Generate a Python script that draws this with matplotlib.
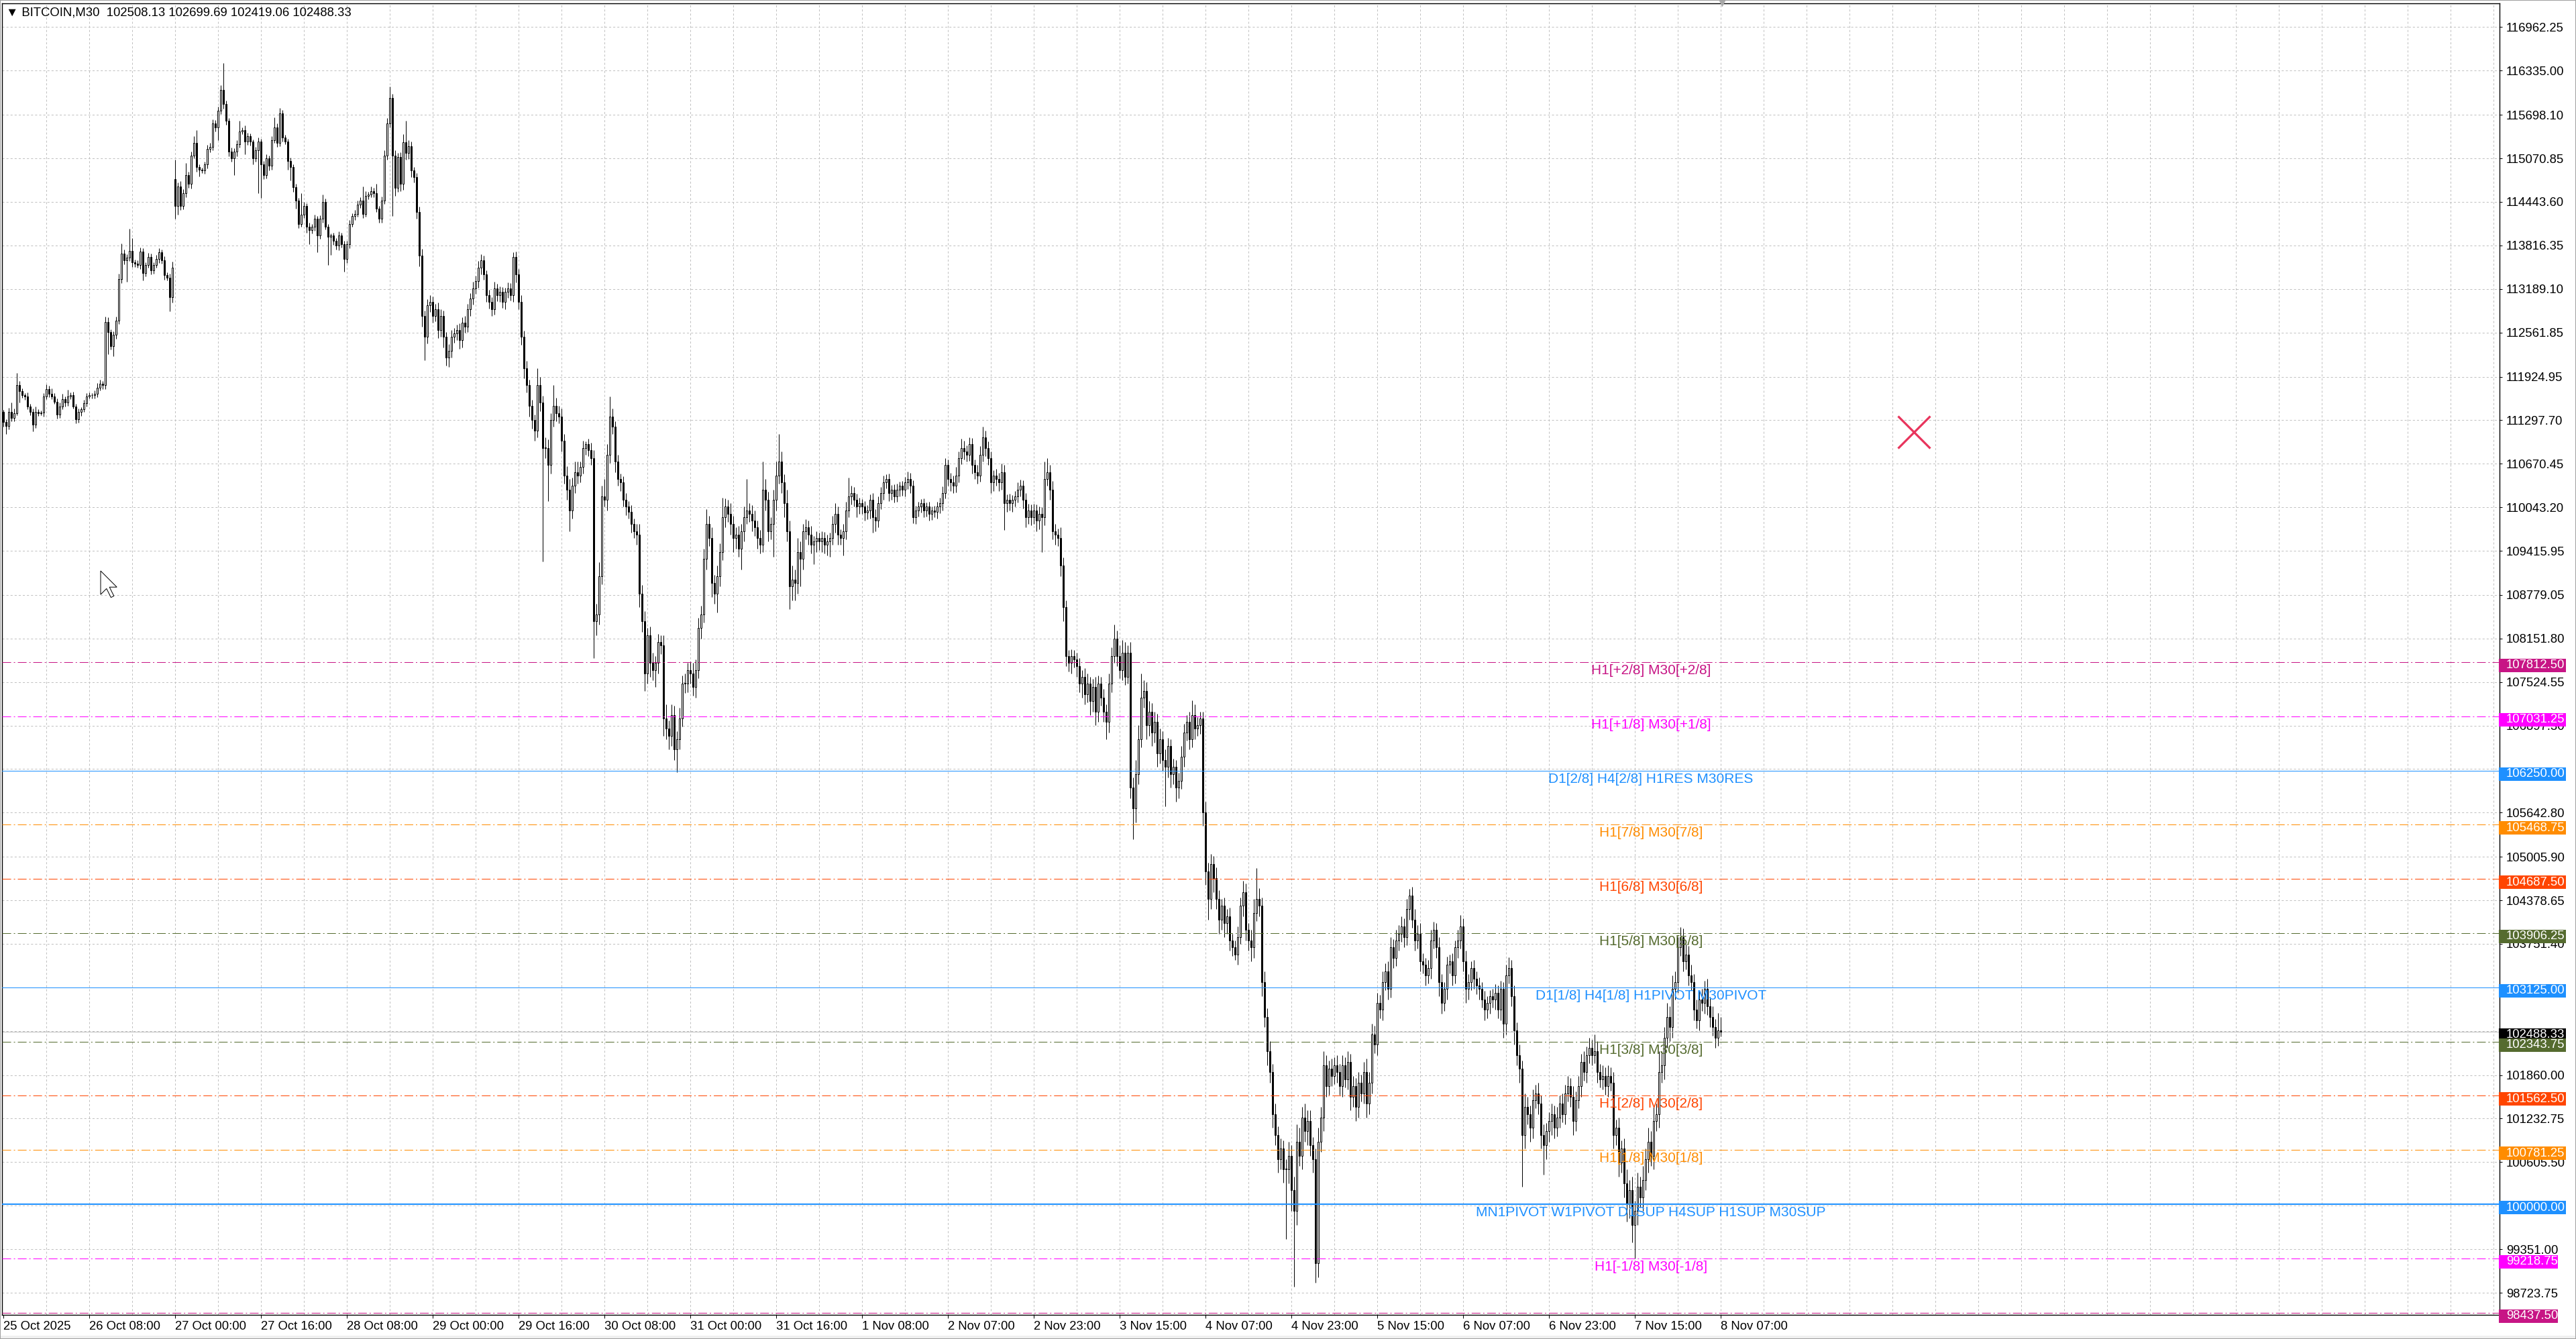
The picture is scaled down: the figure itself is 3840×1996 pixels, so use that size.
import matplotlib
matplotlib.use("Agg")
import matplotlib.pyplot as plt
import matplotlib.transforms as mtransforms
from matplotlib.patches import Rectangle, Polygon
import numpy as np

plt.rcParams['font.family'] = ['Liberation Sans', 'DejaVu Sans']
plt.rcParams['lines.scale_dashes'] = False

symbol = "BITCOIN,M30"

# M30 closes, one row = 16 bars (one grid cell)
closes = [
    111270, 111215, 111420, 111326, 111400, 111808, 111715, 111660, 111640, 111493, 111418, 111233, 111420, 111400, 111410, 111640,
    111750, 111680, 111640, 111567, 111381, 111493, 111604, 111550, 111641, 111660, 111493, 111307, 111419, 111456, 111547, 111640,
    111660, 111655, 111680, 111770, 111827, 111808, 112717, 112568, 112364, 112531, 112735, 113329, 113700, 113607, 113644, 113737,
    113570, 113552, 113533, 113726, 113421, 113533, 113652, 113459, 113533, 113626, 113718, 113607, 113385, 113348, 113069, 113500,
    114386, 114664, 114386, 114571, 114831, 114701, 115110, 115295, 114943, 114906, 114900, 114987, 115203, 115240, 115574, 115518,
    115758, 116056, 115852, 115610, 115165, 115073, 115165, 115277, 115462, 115481, 115314, 115388, 115314, 115073, 115184, 115314,
    114980, 114831, 115073, 114961, 115332, 115518, 115295, 115722, 115370, 115314, 115036, 114943, 114653, 114460, 114126, 114256,
    114385, 114089, 114033, 114089, 114200, 113960, 114200, 114442, 114089, 113941, 113960, 113885, 113811, 113960, 113830, 113626,
    113830, 114126, 114237, 114274, 114404, 114460, 114274, 114534, 114553, 114600, 114571, 114349, 114200, 114460, 115110, 115574,
    115944, 115110, 114646, 115091, 114700, 115300, 115150, 115250, 114900, 114800, 114300, 113666, 112800, 112500, 112950, 113000,
    112800, 112900, 112600, 112800, 112500, 112200, 112300, 112500, 112550, 112600, 112450, 112700, 112650, 112900, 113050, 113200,
    113300, 113500, 113600, 113400, 113100, 113000, 112900, 113200, 113100, 113150, 113000, 113150, 113200, 113100, 113650, 113400,
    113000, 112500, 112050, 111800, 111500, 111300, 111150, 111800, 111550, 110900, 110900, 110650, 111300, 111500, 111400, 111350,
    111000, 110500, 110300, 110000, 110350, 110550, 110500, 110620, 110900, 110950, 110870, 110750, 108400, 108500, 109050, 110200,
    110150, 110800, 111350, 111200, 110700, 110450, 110400, 110150, 110050, 109980, 109800, 109700, 109650, 108800, 108400, 107650,
    108200, 107800, 107700, 107800, 108100, 108050, 107000, 106850, 106750, 107050, 106550, 106700, 107000, 107500, 107500, 107700,
    107650, 107450, 107700, 108300, 108500, 109300, 109800, 109600, 108950, 108800, 109050, 109400, 109900, 110050, 109950, 109800,
    109600, 109650, 109450, 109700, 109900, 110000, 109950, 109850, 109750, 109600, 109500, 110300, 110150, 109700, 109800, 110150,
    110500, 110700, 110400, 110100, 109700, 108900, 109000, 108950, 109400, 109300, 109700, 109750, 109650, 109500, 109550, 109600,
    109550, 109600, 109500, 109550, 109600, 109800, 109950, 109650, 109600, 109700, 110000, 110200, 110250, 110150, 110050, 110100,
    110050, 109970, 110000, 110150, 109900, 109850, 110100, 110250, 110400, 110450, 110250, 110300, 110200, 110300, 110350, 110300,
    110400, 110450, 110350, 109900, 110000, 110050, 110100, 110000, 110050, 109950, 110000, 109980, 110050, 110100, 110250, 110650,
    110450, 110400, 110350, 110500, 110750, 110900, 110850, 110800, 110950, 110650, 110550, 110500, 110800, 111050, 110900, 110750,
    110400, 110500, 110450, 110400, 110550, 110100, 110150, 110100, 110150, 110200, 110300, 110350, 110150, 109900, 110000, 109900,
    110000, 109850, 109950, 109900, 110450, 110550, 110300, 109700, 109650, 109600, 109200, 108600, 107900, 107800, 107900, 107850,
    107750, 107500, 107600, 107350, 107500, 107250, 107450, 107100, 107500, 107300, 107100, 106950, 107500, 107900, 108150, 107900,
    107700, 107950, 107600, 107950, 106000, 105700, 106200, 106700, 107300, 107400, 106900, 107100, 106800, 106950, 106500, 106700,
    106400, 106300, 106600, 106200, 106300, 106000, 106100, 106450, 106800, 106950, 106700, 107050, 106850, 106900, 107000, 105650,
    104800, 104400, 104900, 104700, 104400, 104100, 104300, 104050, 104150, 103800, 103700, 103600, 103850, 104300, 104500, 103950,
    103800, 103700, 104200, 104400, 104300, 103200, 102700, 102200, 101900, 101300, 101000, 100650, 100800, 100500, 100500, 100700,
    100200, 99900, 100900, 100700, 101250, 101050, 101200, 100850, 100650, 99150, 100900, 101250, 102000, 101700, 101950, 101850,
    102000, 101900, 101700, 102000, 101800, 102050, 101550, 101700, 101400, 101750, 101600, 101900, 101450, 101750, 102450, 102300,
    102900, 102800, 103200, 103350, 103100, 103700, 103550, 103800, 103900, 104000, 103850, 104250, 104450, 104100, 103800, 103900,
    103500, 103450, 103300, 103400, 103800, 103950, 103700, 103200, 102900, 103100, 103450, 103500, 103300, 103700, 103800, 104000,
    103500, 103100, 103200, 103400, 103250, 103150, 103100, 102950, 102800, 102900, 103000, 102950, 103050, 102800, 103100, 102600,
    103300, 103400, 103000, 102500, 102150, 101950, 101000, 101400, 101300, 101100, 101500, 101600, 101450, 101000, 100850, 101050,
    101200, 101300, 101100, 101250, 101450, 101300, 101600, 101700, 101550, 101200, 101500, 101700, 102050, 101900, 102150, 102250,
    102150, 102200, 101900, 101800, 101850, 101700, 101850, 101750, 101000, 101100, 100600, 100800, 100300, 100000, 100200, 99700,
    99900, 100250, 100100, 100350, 100650, 100900, 100700, 101200, 101300, 101900, 102000, 102400, 102700, 102550, 103100, 103200,
    103700, 103850, 103500, 103600, 103300, 103200, 102800, 102650, 102950, 102900, 103100, 102850, 102700, 102550, 102400, 102508.13,
    102488.33,
]

first_open = 111420
gap_opens = {64: 114776}

# upper / lower shadow length above / below the body
wick_up = [
    30, 40, 60, 128, 70, 167, 50, 40, 30, 60, 40, 50, 70, 40, 30, 50,
    60, 40, 72, 50, 40, 60, 70, 40, 93, 40, 50, 40, 50, 30, 40, 50,
    40, 30, 50, 60, 50, 40, 74, 60, 40, 50, 60, 80, 148, 60, 50, 315,
    186, 40, 50, 60, 50, 40, 60, 50, 40, 50, 60, 40, 50, 40, 60, 80,
    278, 60, 80, 60, 169, 50, 60, 93, 185, 40, 30, 40, 60, 55, 60, 50,
    60, 74, 389, 50, 40, 60, 50, 60, 148, 40, 60, 50, 40, 30, 50, 60,
    40, 50, 60, 40, 60, 148, 60, 74, 50, 40, 40, 50, 40, 50, 40, 315,
    60, 40, 50, 40, 60, 40, 50, 111, 50, 40, 30, 40, 40, 60, 40, 50,
    50, 60, 40, 50, 60, 50, 204, 60, 40, 64, 50, 130, 40, 60, 74, 80,
    167, 60, 80, 60, 70, 120, 315, 80, 60, 50, 60, 80, 100, 80, 90, 100,
    80, 70, 90, 100, 80, 70, 90, 100, 80, 70, 90, 80, 100, 70, 80, 90,
    80, 90, 90, 70, 60, 80, 70, 90, 60, 80, 70, 60, 80, 70, 70, 80,
    80, 100, 90, 100, 80, 90, 80, 250, 120, 100, 150, 120, 100, 300, 120, 100,
    120, 100, 130, 150, 120, 150, 150, 80, 100, 40, 80, 100, 120, 150, 200, 150,
    250, 150, 293, 120, 80, 100, 80, 90, 100, 80, 90, 80, 100, 150, 120, 150,
    100, 120, 150, 100, 120, 100, 150, 200, 120, 150, 130, 120, 150, 120, 150, 100,
    120, 150, 150, 150, 120, 150, 220, 120, 150, 120, 150, 120, 280, 120, 100, 150,
    120, 100, 120, 100, 150, 450, 100, 120, 150, 100, 120, 400, 150, 120, 100, 150,
    200, 400, 150, 120, 200, 150, 200, 150, 200, 150, 100, 120, 100, 120, 80, 100,
    80, 100, 90, 100, 80, 120, 150, 100, 80, 100, 120, 270, 100, 80, 90, 80,
    60, 80, 70, 80, 100, 120, 100, 80, 100, 70, 80, 60, 70, 80, 60, 70,
    80, 110, 90, 80, 60, 70, 60, 70, 60, 70, 50, 60, 70, 80, 90, 100,
    80, 90, 100, 120, 100, 130, 100, 80, 100, 90, 80, 100, 120, 150, 100, 90,
    100, 80, 100, 90, 120, 100, 80, 90, 70, 80, 100, 90, 80, 100, 90, 80,
    90, 80, 100, 90, 250, 200, 100, 120, 100, 90, 150, 120, 100, 90, 100, 90,
    100, 120, 100, 120, 150, 100, 120, 150, 120, 100, 120, 100, 150, 120, 200, 120,
    150, 180, 150, 100, 150, 150, 200, 200, 350, 150, 120, 150, 120, 150, 120, 150,
    120, 150, 120, 100, 120, 100, 120, 150, 120, 100, 150, 210, 150, 120, 100, 100,
    150, 120, 150, 120, 150, 120, 100, 120, 100, 120, 100, 100, 150, 120, 160, 120,
    100, 150, 200, 440, 150, 120, 150, 120, 150, 120, 150, 120, 150, 120, 150, 200,
    150, 200, 250, 200, 150, 200, 150, 150, 120, 150, 200, 150, 200, 150, 120, 150,
    120, 150, 120, 150, 120, 150, 120, 150, 120, 150, 120, 150, 200, 150, 150, 120,
    150, 120, 150, 120, 150, 150, 120, 150, 120, 150, 120, 150, 90, 120, 150, 120,
    150, 120, 100, 120, 150, 120, 100, 150, 120, 100, 120, 100, 120, 100, 150, 170,
    120, 150, 120, 100, 120, 100, 120, 100, 120, 100, 80, 100, 120, 100, 120, 100,
    150, 160, 120, 150, 120, 150, 120, 200, 150, 120, 150, 120, 150, 120, 150, 120,
    120, 150, 120, 150, 120, 150, 120, 150, 120, 150, 120, 150, 120, 150, 120, 150,
    120, 250, 150, 120, 150, 120, 150, 120, 150, 120, 150, 120, 150, 200, 150, 200,
    150, 200, 150, 200, 150, 200, 150, 200, 150, 300, 200, 150, 200, 150, 200, 150,
    150, 140, 120, 150, 120, 150, 120, 150, 120, 150, 120, 150, 120, 150, 120, 250,
    191.56,
]
wick_dn = [
    70, 112, 50, 40, 40, 30, 167, 40, 50, 40, 50, 93, 50, 40, 30, 60,
    40, 50, 40, 30, 60, 50, 40, 60, 50, 40, 30, 50, 40, 60, 40, 50,
    30, 40, 40, 50, 40, 60, 60, 315, 50, 148, 60, 50, 60, 60, 315, 50,
    60, 50, 40, 60, 111, 50, 40, 60, 50, 40, 60, 50, 60, 40, 203, 80,
    186, 130, 60, 50, 60, 50, 60, 40, 60, 93, 40, 50, 60, 40, 50, 60,
    186, 50, 60, 50, 60, 50, 242, 60, 50, 40, 186, 50, 60, 93, 50, 613,
    483, 60, 50, 60, 50, 40, 60, 50, 60, 40, 131, 186, 60, 111, 60, 37,
    40, 89, 203, 40, 60, 242, 50, 60, 40, 408, 260, 60, 50, 60, 40, 186,
    60, 50, 40, 50, 40, 50, 60, 40, 50, 40, 60, 50, 55, 60, 50, 60,
    60, 873, 112, 60, 100, 80, 100, 90, 100, 80, 100, 150, 150, 340, 100, 90,
    100, 80, 120, 100, 150, 120, 136, 100, 90, 100, 120, 100, 90, 80, 100, 90,
    80, 90, 100, 80, 100, 90, 100, 80, 90, 100, 80, 100, 90, 80, 100, 120,
    100, 120, 150, 100, 150, 120, 150, 100, 120, 1640, 150, 520, 120, 100, 120, 100,
    150, 120, 150, 300, 120, 100, 120, 100, 90, 100, 90, 100, 531, 200, 150, 120,
    100, 150, 120, 100, 150, 100, 120, 100, 120, 100, 120, 100, 150, 200, 150, 250,
    150, 200, 150, 250, 150, 120, 250, 150, 200, 150, 150, 328, 150, 120, 130, 120,
    150, 120, 150, 120, 150, 120, 150, 120, 200, 150, 270, 150, 120, 150, 120, 150,
    200, 150, 120, 300, 150, 100, 120, 150, 120, 150, 120, 100, 150, 150, 120, 470,
    150, 120, 150, 200, 150, 320, 200, 250, 150, 400, 150, 120, 150, 120, 280, 150,
    120, 150, 120, 150, 220, 100, 120, 150, 100, 250, 120, 100, 120, 100, 150, 100,
    100, 120, 100, 120, 220, 150, 100, 80, 100, 80, 120, 100, 90, 80, 100, 90,
    100, 90, 100, 90, 100, 90, 80, 100, 90, 100, 90, 80, 100, 90, 100, 80,
    100, 120, 100, 90, 100, 90, 120, 100, 90, 120, 100, 120, 90, 100, 120, 100,
    150, 120, 100, 120, 100, 380, 120, 100, 120, 100, 90, 100, 120, 150, 100, 120,
    100, 150, 120, 500, 120, 100, 150, 120, 150, 120, 150, 200, 150, 120, 150, 120,
    150, 120, 200, 150, 120, 200, 150, 200, 150, 120, 150, 250, 150, 120, 100, 150,
    120, 150, 120, 100, 150, 438, 200, 150, 120, 150, 200, 150, 200, 150, 200, 150,
    150, 570, 150, 200, 150, 200, 150, 120, 150, 120, 150, 120, 150, 100, 120, 200,
    200, 300, 150, 200, 150, 200, 150, 200, 150, 150, 120, 80, 150, 100, 150, 150,
    150, 200, 150, 120, 150, 200, 150, 200, 150, 200, 150, 200, 150, 187, 1000, 200,
    300, 1086, 200, 150, 200, 150, 200, 150, 200, 280, 200, 150, 200, 150, 120, 150,
    120, 150, 120, 150, 120, 150, 200, 150, 200, 150, 120, 150, 200, 150, 150, 120,
    150, 120, 150, 120, 150, 120, 150, 120, 150, 120, 150, 120, 150, 120, 150, 120,
    150, 120, 150, 120, 150, 120, 150, 200, 150, 120, 150, 120, 150, 120, 150, 120,
    150, 200, 150, 120, 150, 120, 150, 120, 150, 120, 150, 120, 150, 120, 150, 200,
    150, 120, 150, 200, 150, 200, 750, 200, 150, 200, 150, 120, 150, 200, 420, 200,
    150, 200, 150, 120, 150, 120, 150, 120, 150, 200, 150, 120, 150, 120, 150, 120,
    150, 120, 150, 120, 150, 120, 150, 120, 200, 150, 200, 150, 200, 250, 200, 250,
    480, 200, 150, 200, 150, 200, 150, 200, 150, 200, 150, 200, 150, 200, 150, 150,
    150, 120, 150, 120, 150, 120, 150, 120, 150, 120, 150, 120, 150, 120, 150, 120,
    69.27,
]

date_labels = ["25 Oct 2025", "26 Oct 08:00", "27 Oct 00:00", "27 Oct 16:00", "28 Oct 08:00",
               "29 Oct 00:00", "29 Oct 16:00", "30 Oct 08:00", "31 Oct 00:00", "31 Oct 16:00",
               "1 Nov 08:00", "2 Nov 07:00", "2 Nov 23:00", "3 Nov 15:00", "4 Nov 07:00",
               "4 Nov 23:00", "5 Nov 15:00", "6 Nov 07:00", "6 Nov 23:00", "7 Nov 15:00",
               "8 Nov 07:00"]
bars_per_label = 32

price_ticks = [116962.25, 116335.00, 115698.10, 115070.85, 114443.60, 113816.35, 113189.10,
               112561.85, 111924.95, 111297.70, 110670.45, 110043.20, 109415.95, 108779.05,
               108151.80, 107524.55, 106897.30, 106270.05, 105642.80, 105005.90, 104378.65,
               103751.40, 103124.15, 102496.90, 101860.00, 101232.75, 100605.50, 99978.25,
               99351.00, 98723.75]

level_prices = [107812.50, 107031.25, 106250.00, 105468.75, 104687.50, 103906.25, 103125.00,
                102343.75, 101562.50, 100781.25, 100000.00, 99218.75, 98437.50]
level_names = ["H1[+2/8] M30[+2/8]", "H1[+1/8] M30[+1/8]", "D1[2/8] H4[2/8] H1RES M30RES",
               "H1[7/8] M30[7/8]", "H1[6/8] M30[6/8]", "H1[5/8] M30[5/8]",
               "D1[1/8] H4[1/8] H1PIVOT M30PIVOT", "H1[3/8] M30[3/8]", "H1[2/8] M30[2/8]",
               "H1[1/8] M30[1/8]", "MN1PIVOT W1PIVOT D1SUP H4SUP H1SUP M30SUP",
               "H1[-1/8] M30[-1/8]", "H1[-2/8] M30[-2/8]"]
level_colors = ["#C71585", "#FF00FF", "#1E90FF", "#FF8C00", "#FF4500", "#556B2F", "#1E90FF",
                "#556B2F", "#FF4500", "#FF8C00", "#1E90FF", "#FF00FF", "#C71585"]
level_styles = ["dashdot", "dashdot", "solid", "dashdot", "dashdot", "dashdot", "solid",
                "dashdot", "dashdot", "dashdot", "solid", "dashdot", "dashdot"]
level_widths = [1, 1, 1, 1, 1, 1, 1, 1, 1, 1, 2, 1, 1]

marker_bar = 712
marker_price = 111130
shift_bar = 640.5

# ---- build OHLC
closes = np.array(closes, dtype=float)
opens = np.concatenate([[first_open], closes[:-1]])
for k, v in gap_opens.items():
    opens[k] = v
highs = np.maximum(opens, closes) + np.array(wick_up)
lows = np.minimum(opens, closes) - np.array(wick_dn)
x = np.arange(len(closes))
last_close = closes[-1]

W, H = 3840, 1996
px = 0.72  # one pixel in points at dpi 100
ppu = 0.10344  # pixels per price unit
fig = plt.figure(figsize=(W / 100, H / 100), dpi=100)
ax = fig.add_axes([3 / W, 36 / H, 3723 / W, 1955 / H])
ax.set_xlim(-0.5, 930.25)
ymin, ymax = 98405.0, 117305.0
ax.set_ylim(ymin, ymax)

# grid
for v in price_ticks:
    ax.axhline(v, color='#c0c0c0', lw=px, ls=(0, (2.2, 2.2)), zorder=0)
for b in range(16, 931, 16):
    ax.axvline(b, color='#c0c0c0', lw=px, ls=(0, (2.2, 2.2)), zorder=0)

# candles
ax.vlines(x, lows, highs, color='black', lw=px, zorder=2)
up = closes >= opens
body = np.maximum(np.abs(closes - opens), 8)
ax.bar(x[up], body[up], bottom=opens[up], width=0.55, color='white',
       edgecolor='black', linewidth=px, zorder=3)
ax.bar(x[~up], body[~up], bottom=closes[~up], width=0.55, color='black',
       edgecolor='black', linewidth=px, zorder=3)

# current price line
ax.axhline(last_close, color='#c0c0c0', lw=px, zorder=2.5)

# Murrey / pivot levels
dashdot = (0, (9.4, 2.9, 1.4, 2.9))
for p, name, col, st, w in zip(level_prices, level_names, level_colors, level_styles, level_widths):
    ax.axhline(p, color=col, lw=w * px, ls='-' if st == 'solid' else dashdot, zorder=4)
    ax.annotate(name, xy=(614, p), xytext=(0, -2.2), textcoords='offset points',
                ha='center', va='top', fontsize=15, color=col, zorder=5,
                annotation_clip=True, clip_on=True)

# axes, ticks
for s in ax.spines.values():
    s.set_color('black')
    s.set_linewidth(1.0)
box_prices = level_prices + [last_close]
# scale values that sit right under a price box are not visible on the chart
tick_text = [f"{v:.2f}" if min(abs(v - b) for b in box_prices) > 60 else "" for v in price_ticks]
ax.yaxis.tick_right()
ax.set_yticks(price_ticks)
ax.set_yticklabels(tick_text)
ax.tick_params(axis='y', right=True, left=False, labelright=True, labelleft=False,
               length=4 * px, width=px, pad=6 * px, labelsize=13.3, colors='black')
label_bars = [i * bars_per_label for i in range(len(date_labels))]
ax.set_xticks(label_bars)
ax.set_xticklabels(date_labels)
for lab in ax.get_xticklabels():
    lab.set_ha('left')
ax.tick_params(axis='x', length=5 * px, width=px, pad=4 * px, labelsize=13.3)

# price boxes on the scale (drawn a few pixels under their price, as the terminal does)
trans = mtransforms.blended_transform_factory(ax.transAxes, ax.transData)
box_h = 20 / ppu
box_drop = 5 / ppu
box_x0 = (3725 - 3) / 3723
text_x = (3736 - 3) / 3723
boxes = list(zip(level_prices, level_colors))
boxes.insert(7, (last_close, 'black'))
for p, col in boxes:
    txt = f"{p:.2f}"
    wpx = 100 if len(txt) > 8 else 88
    yc = p - box_drop
    ax.add_patch(Rectangle((box_x0, yc - box_h / 2), wpx / 3723, box_h, transform=trans,
                           facecolor=col, edgecolor='none', clip_on=False, zorder=7))
    ax.text(text_x, yc, txt, transform=trans, color='white', fontsize=13.3,
            ha='left', va='center', zorder=8, clip_on=False)

# red cross object
ax.plot([marker_bar], [marker_price], marker='x', markersize=34, mew=3.2 * px,
        color='#E8345C', zorder=6)

# chart shift marker on the top edge
ax.plot([shift_bar], [ymax], marker='v', markersize=7, color='#a8a8a8', mec='none',
        clip_on=False, zorder=9)

# mouse pointer left in the screenshot
arrow = np.array([[0, 0], [0, 16], [4, 12], [7, 18], [9, 17], [6, 11], [11, 11]]) * 2.2
arrow[:, 1] = H - 851 - arrow[:, 1]
arrow[:, 0] = 150 + arrow[:, 0]
fig.patches.append(Polygon(arrow, closed=True, transform=None, facecolor='white',
                           edgecolor='black', linewidth=px, zorder=9))

# window frame and status strip
fig.patches.append(Rectangle((0, 0), 1, 5 / H, transform=fig.transFigure,
                             facecolor='#f0f0f0', edgecolor='none', zorder=0))
fig.patches.append(Rectangle((0, 0), 1, 1, transform=fig.transFigure, fill=False,
                             edgecolor='#a0a0a0', linewidth=2 * px, zorder=10))

# header
title = f"\u25bc {symbol}  {opens[-1]:.2f} {highs[-1]:.2f} {lows[-1]:.2f} {closes[-1]:.2f}"
fig.text(9 / W, 1 - 19 / H, title, fontsize=13.3, ha='left', va='center')

fig.savefig('out.png', dpi=100)
